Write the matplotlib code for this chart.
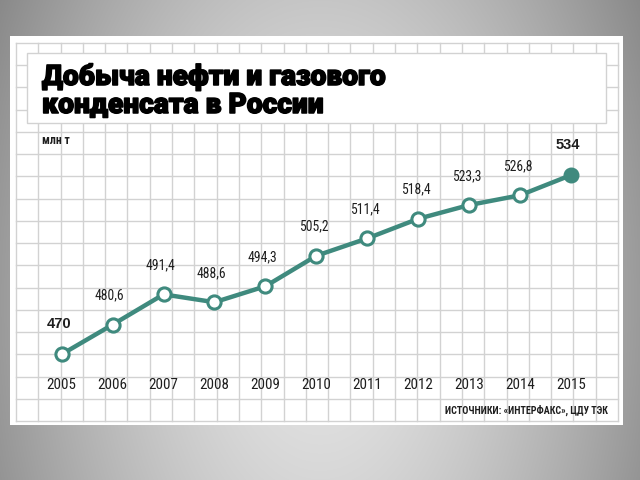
import numpy as np
import matplotlib
matplotlib.use("Agg")
import matplotlib.pyplot as plt
import matplotlib.patheffects as pe
from matplotlib.patches import Rectangle
from matplotlib.transforms import blended_transform_factory
from matplotlib import font_manager

years = [2005, 2006, 2007, 2008, 2009, 2010, 2011, 2012, 2013, 2014, 2015]
values = [470, 480.6, 491.4, 488.6, 494.3, 505.2, 511.4, 518.4, 523.3, 526.8, 534]
value_labels = ["470", "480,6", "491,4", "488,6", "494,3", "505,2", "511,4",
                "518,4", "523,3", "526,8", "534"]
year_labels = [str(y) for y in years]
title_lines = ["Добыча нефти и газового", "конденсата в России"]
unit_label = "млн т"
source_label = "ИСТОЧНИКИ: «ИНТЕРФАКС», ЦДУ ТЭК"

TEAL = "#3f8a7e"
GRID = "#d2d2d2"
TXT = "#1e1e1e"

names = {f.name for f in font_manager.fontManager.ttflist}
NARROW_NAME = None
for pref in ["Liberation Sans Narrow", "Roboto Condensed", "DejaVu Sans Condensed", "Open Sans Condensed"]:
    if pref in names:
        NARROW_NAME = pref
        break
if NARROW_NAME is None:
    NARROW = dict(family=["Liberation Sans"], stretch="condensed")
    SCALE = 0.93
else:
    NARROW = dict(family=[NARROW_NAME, "DejaVu Sans"])
    SCALE = 1.0

W, H = 640, 480
fig = plt.figure(figsize=(6.4, 4.8), dpi=100)

bg = fig.add_axes([0, 0, 1, 1])
bg.set_xlim(0, W)
bg.set_ylim(H, 0)
bg.axis("off")
yy, xx = np.mgrid[0:H, 0:W]
r = np.sqrt(((xx - 320) / 360.0) ** 2 + ((yy - 300) / 600.0) ** 2)
g = np.clip(0.9 - 0.35 * r ** 1.5, 0, 1)
bg.imshow(np.dstack([g, g, g]), extent=[0, W, H, 0], aspect="auto", zorder=0)

bg.add_patch(Rectangle((10, 36), 613, 389, facecolor="white", edgecolor="none", zorder=1))

gx0, gx1, gy0, gy1 = 16, 618, 43, 421
for xv in np.linspace(gx0, gx1, 28):
    bg.plot([xv, xv], [gy0, gy1], color=GRID, lw=1.0, zorder=2)
for yv in np.linspace(gy0, gy1, 18):
    bg.plot([gx0, gx1], [yv, yv], color=GRID, lw=1.0, zorder=2)

bg.add_patch(Rectangle((27, 53), 579, 70, facecolor="white", edgecolor=GRID, lw=1.0, zorder=3))
for yb, line in zip([85, 113], title_lines):
    bg.text(42, yb, line, fontsize=20.3, fontweight="black", family=["Roboto", "DejaVu Sans"],
            color="black", ha="left", va="baseline", zorder=4,
            path_effects=[pe.withStroke(linewidth=1.1, foreground="black")])

bg.text(42, 140, unit_label, fontsize=8.5 * SCALE, fontweight="bold", color=TXT,
        ha="left", va="center", zorder=4, **NARROW)
bg.text(608, 410, source_label, fontsize=7.2 * SCALE, fontweight="bold", color=TXT,
        ha="right", va="center", zorder=4, **NARROW)

ax = fig.add_axes([gx0 / W, (H - gy1) / H, (gx1 - gx0) / W, (gy1 - gy0) / H])
ax.set_facecolor("none")
ax.set_xlim(2004.103, 2015.923)
ax.set_ylim(446.18, 581.18)
for s in ax.spines.values():
    s.set_visible(False)
ax.set_xticks([])
ax.set_yticks([])

ax.plot(years, values, color=TEAL, lw=3.2, solid_capstyle="round", zorder=3)
ax.plot(years[:-1], values[:-1], linestyle="none", marker="o", markersize=9.5,
        markerfacecolor="white", markeredgecolor=TEAL, markeredgewidth=2.2, zorder=4)
ax.plot(years[-1:], values[-1:], linestyle="none", marker="o", markersize=10.5,
        markerfacecolor=TEAL, markeredgecolor=TEAL, zorder=4)

for i, (x, v, lab) in enumerate(zip(years, values, value_labels)):
    bold = i in (0, len(years) - 1)
    if bold:
        ax.annotate(lab, (x, v), xytext=(-2, 22), textcoords="offset points",
                    ha="center", va="center", fontsize=10.5, fontweight="bold",
                    family=["Liberation Sans", "DejaVu Sans"], color=TXT, zorder=5)
    else:
        ax.annotate(lab, (x, v), xytext=(-2, 21), textcoords="offset points",
                    ha="center", va="center", fontsize=9.8 * SCALE,
                    color=TXT, zorder=5, **NARROW)

tr = blended_transform_factory(ax.transData, ax.transAxes)
for x, lab in zip(years, year_labels):
    ax.text(x, (gy1 - 385) / (gy1 - gy0), lab, transform=tr, ha="center", va="center",
            fontsize=10.8 * SCALE, color=TXT, **NARROW)

fig.savefig("out.png", dpi=100)
